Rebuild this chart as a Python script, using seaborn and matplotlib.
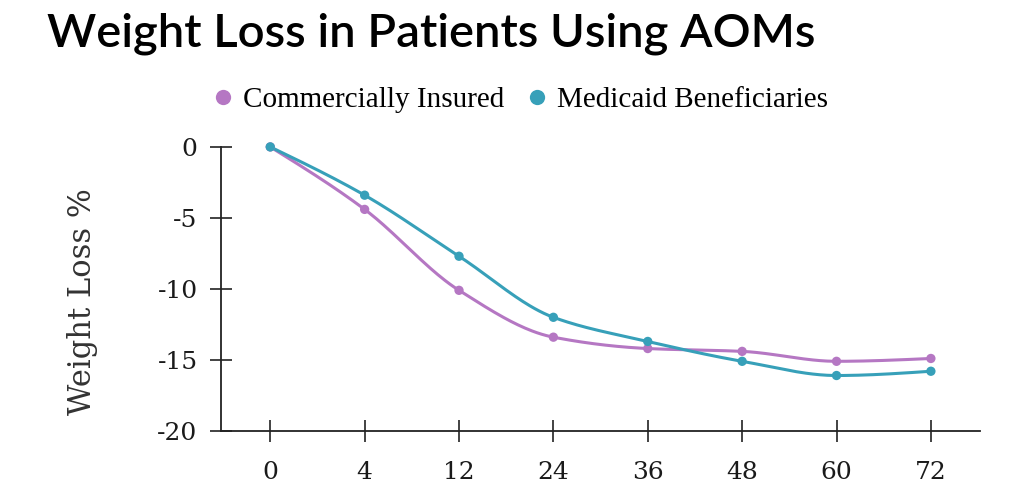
import numpy as np
import pandas as pd
import matplotlib
matplotlib.use("Agg")
import matplotlib.pyplot as plt
import seaborn as sns

# weeks on treatment (categorical, evenly spaced on the chart)
weeks = ["0", "4", "12", "24", "36", "48", "60", "72"]
commercial = [0, -4.4, -10.1, -13.4, -14.2, -14.4, -15.1, -14.9]
medicaid = [0, -3.4, -7.7, -12.0, -13.7, -15.1, -16.1, -15.8]

PALETTE = {"Commercially Insured": "#b577c3", "Medicaid Beneficiaries": "#37a0b9"}


def monotone_curve(y, n=40):
    # monotone cubic (Fritsch-Carlson) through equally spaced points
    y = np.asarray(y, float)
    x = np.arange(len(y), dtype=float)
    d = np.diff(y)
    m = np.zeros_like(y)
    for i in range(1, len(y) - 1):
        if d[i - 1] * d[i] <= 0:
            m[i] = 0
        else:
            m[i] = 2 / (1 / d[i - 1] + 1 / d[i])
    # d3 style end slopes
    m[0] = (3 * d[0] - m[1]) / 2 if d[0] * (3 * d[0] - m[1]) > 0 else 0
    m[-1] = (3 * d[-1] - m[-2]) / 2 if d[-1] * (3 * d[-1] - m[-2]) > 0 else 0
    xs, ys = [], []
    for i in range(len(y) - 1):
        t = np.linspace(0, 1, n, endpoint=(i == len(y) - 2))
        h00 = 2 * t**3 - 3 * t**2 + 1
        h10 = t**3 - 2 * t**2 + t
        h01 = -2 * t**3 + 3 * t**2
        h11 = t**3 - t**2
        xs.append(x[i] + t)
        ys.append(h00 * y[i] + h10 * m[i] + h01 * y[i + 1] + h11 * m[i + 1])
    return np.concatenate(xs), np.concatenate(ys)


points = pd.concat([
    pd.DataFrame({"idx": range(len(weeks)), "loss": commercial, "group": "Commercially Insured"}),
    pd.DataFrame({"idx": range(len(weeks)), "loss": medicaid, "group": "Medicaid Beneficiaries"}),
])

curves = []
for name, vals in [("Commercially Insured", commercial), ("Medicaid Beneficiaries", medicaid)]:
    cx, cy = monotone_curve(vals)
    curves.append(pd.DataFrame({"idx": cx, "loss": cy, "group": name}))
curves = pd.concat(curves)

sns.set_style("white")
serif = ["DejaVu Serif"]
legend_serif = ["Liberation Serif", "DejaVu Serif"]

fig = plt.figure(figsize=(10.24, 4.93), dpi=100)
ax = fig.add_axes([0.216, 0.126, 0.741, 0.576])

sns.lineplot(data=curves, x="idx", y="loss", hue="group", palette=PALETTE,
             linewidth=2.2, legend=False, ax=ax, sort=False)
sns.scatterplot(data=points, x="idx", y="loss", hue="group", palette=PALETTE,
                s=45, edgecolor="none", legend=False, ax=ax, zorder=3)
for line in ax.lines:
    line.set_clip_on(False)
for coll in ax.collections:
    coll.set_clip_on(False)

ax.set_xlim(-0.52, 7.52)
ax.set_ylim(-20, 0)
ax.set_xticks(range(len(weeks)))
ax.set_xticklabels(weeks)
ax.set_yticks([0, -5, -10, -15, -20])
ax.set_yticklabels(["0", "-5", "-10", "-15", "-20"])
ax.set_xlabel("")
ax.set_ylabel("Weight Loss %", fontsize=22, family=serif, color="#333333")
ax.yaxis.set_label_coords(-0.163, 0.454)

for s in ["top", "right"]:
    ax.spines[s].set_visible(False)
for s in ["left", "bottom"]:
    ax.spines[s].set_color("#222222")
    ax.spines[s].set_linewidth(1.3)
ax.tick_params(axis="both", direction="inout", length=16, width=1.2, color="#222222",
               labelsize=18, labelcolor="#1a1a1a", bottom=True, left=True)
ax.tick_params(axis="x", pad=14)
ax.tick_params(axis="y", pad=9)
for lab in ax.get_xticklabels() + ax.get_yticklabels():
    lab.set_family(serif)

handles = [plt.Line2D([], [], marker="o", linestyle="none", markersize=11,
                      markerfacecolor=c, markeredgecolor="none") for c in PALETTE.values()]
fig.legend(handles, list(PALETTE.keys()), loc="center", bbox_to_anchor=(0.506, 0.797),
           ncol=2, frameon=False, prop={"family": legend_serif, "size": 21},
           handletextpad=0.2, columnspacing=0.6, handlelength=1.0, labelcolor="#000000")

fig.text(0.046, 0.905, "Weight Loss in Patients Using AOMs", fontsize=34,
         fontweight="semibold", family=["Lato", "DejaVu Sans"], color="#000000")

fig.savefig("out.png", dpi=100, facecolor="white")
